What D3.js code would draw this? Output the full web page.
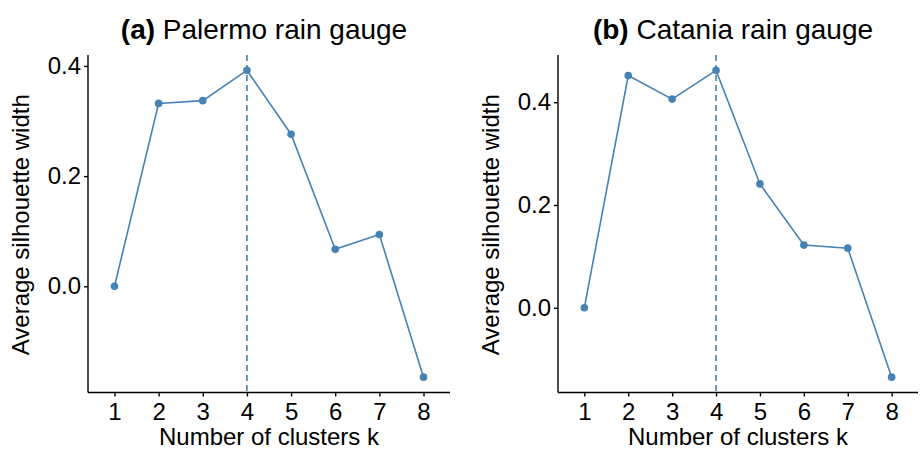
<!DOCTYPE html>
<html>
<head>
<meta charset="utf-8">
<script src="https://cdn.jsdelivr.net/npm/d3@7"></script>
<style>
  body { margin: 0; background: #fff; }
  svg { display: block; font-family: "Liberation Sans", Arial, sans-serif; }
</style>
</head>
<body>
<div id="wrapper"></div>
<script>
const width = 920
const height = 453

const ks = [1, 2, 3, 4, 5, 6, 7, 8]
const palermo = [0.000, 0.332, 0.337, 0.392, 0.276, 0.067, 0.094, -0.165]
const catania = [0.000, 0.452, 0.406, 0.462, 0.241, 0.122, 0.116, -0.135]
const yTicks = [0.0, 0.2, 0.4]
const panels = [
  { tag: "(a)", name: "Palermo rain gauge", values: palermo, best: 4, left: 88, right: 450 },
  { tag: "(b)", name: "Catania rain gauge", values: catania, best: 4, left: 558, right: 918 }
]

const plotTop = 55, plotBottom = 392.5
const color = "#4682B4"

const svg = d3.select("#wrapper").append("svg")
    .attr("width", width)
    .attr("height", height)

panels.forEach(p => {
    const x = d3.scaleLinear().domain([0.4, 8.6]).range([p.left, p.right])
    const ext = d3.extent(p.values)
    const pad = (ext[1] - ext[0]) * 0.05
    const y = d3.scaleLinear().domain([ext[0] - pad, ext[1] + pad]).range([plotBottom, plotTop])
    const cx = (p.left + p.right) / 2

    const g = svg.append("g")

    // title
    const t = g.append("text")
        .attr("x", cx - 5)
        .attr("y", 39)
        .attr("text-anchor", "middle")
        .style("font-size", "28px")
    t.append("tspan").attr("font-weight", "bold").text(p.tag + " ")
    t.append("tspan").text(p.name)

    // axes
    const yAxis = g.append("g")
        .attr("transform", `translate(${p.left},0)`)
        .call(d3.axisLeft(y).tickValues(yTicks).tickFormat(d3.format(".1f")).tickSize(4).tickPadding(3))
    const xAxis = g.append("g")
        .attr("transform", `translate(0,${plotBottom})`)
        .call(d3.axisBottom(x).tickValues(ks).tickSize(4).tickPadding(6))
    ;[yAxis, xAxis].forEach(a => {
        a.select(".domain").attr("stroke", "#000").attr("stroke-width", 1.4)
        a.selectAll(".tick line").attr("stroke", "#000").attr("stroke-width", 1.4)
        a.selectAll(".tick text").attr("fill", "#000").style("font-size", "24px")
            .attr("font-family", "Liberation Sans, Arial, sans-serif")
    })
    // domain lines meet at the corner, no outer ticks
    yAxis.select(".domain").attr("d", `M0,${plotTop}V${plotBottom}`)
    xAxis.select(".domain").attr("d", `M${p.left},0H${p.right}`)

    // axis titles
    g.append("text")
        .attr("x", cx)
        .attr("y", 445)
        .attr("text-anchor", "middle")
        .style("font-size", "24px")
        .text("Number of clusters k")
    g.append("text")
        .attr("transform", `translate(${p.left - 59},${(plotTop + plotBottom) / 2 + 1}) rotate(-90)`)
        .attr("text-anchor", "middle")
        .style("font-size", "24px")
        .text("Average silhouette width")

    // optimal k line
    g.append("line")
        .attr("x1", x(p.best)).attr("x2", x(p.best))
        .attr("y1", plotTop).attr("y2", plotBottom)
        .attr("stroke", color)
        .attr("stroke-width", 1.6)
        .attr("stroke-dasharray", "6,4")

    const line = d3.line().x((d, i) => x(ks[i])).y(d => y(d))
    g.append("path")
        .datum(p.values)
        .attr("fill", "none")
        .attr("stroke", color)
        .attr("stroke-width", 1.6)
        .attr("d", line)

    g.selectAll("circle")
        .data(p.values)
        .join("circle")
        .attr("cx", (d, i) => x(ks[i]))
        .attr("cy", d => y(d))
        .attr("r", 3.8)
        .attr("fill", color)
})
</script>
</body>
</html>
